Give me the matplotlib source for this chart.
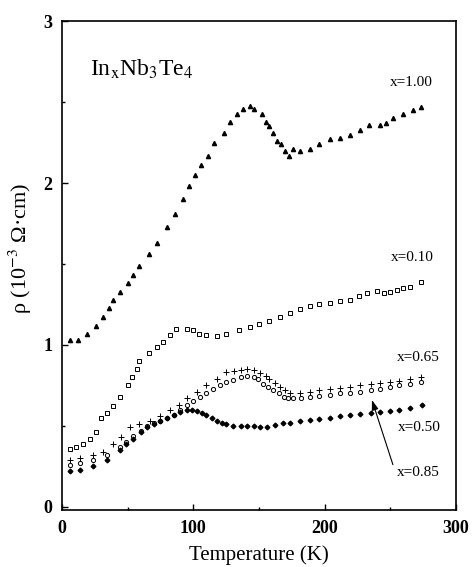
import matplotlib
matplotlib.use('Agg')
import matplotlib.pyplot as plt
from matplotlib.ticker import MultipleLocator

plt.rcParams['font.family'] = ['Liberation Serif', 'DejaVu Serif']
plt.rcParams['mathtext.fontset'] = 'stix'

# x = 1.00 (filled triangles)
t_100 = [6, 12, 19, 26, 31, 36, 39, 44, 50, 54, 59, 66, 72, 80, 86, 92, 97, 101, 106,
         111, 116, 123, 128, 133, 138, 143, 146, 152, 155, 158, 161, 164, 167, 170, 173,
         176, 181, 189, 196, 204, 212, 219, 227, 234, 242, 247, 252, 260, 267, 273]
rho_100 = [1.03, 1.03, 1.07, 1.12, 1.17, 1.23, 1.28, 1.33, 1.38, 1.43, 1.49, 1.56, 1.63,
           1.73, 1.81, 1.90, 1.98, 2.05, 2.11, 2.17, 2.25, 2.31, 2.38, 2.43, 2.46, 2.475,
           2.46, 2.43, 2.38, 2.35, 2.31, 2.26, 2.24, 2.20, 2.17, 2.21, 2.20, 2.21, 2.24,
           2.27, 2.28, 2.30, 2.33, 2.36, 2.36, 2.37, 2.40, 2.43, 2.45, 2.47]

# x = 0.10 (open squares)
t_010 = [6, 11, 16, 21, 26, 30, 34, 39, 44, 50, 53, 57, 59, 66, 72, 77, 82, 87, 95, 100,
         104, 110, 118, 125, 135, 143, 150, 158, 166, 174, 181, 189, 196, 204, 212, 219,
         226, 232, 240, 245, 250, 255, 260, 265, 273]
rho_010 = [0.36, 0.37, 0.39, 0.42, 0.46, 0.55, 0.58, 0.62, 0.68, 0.75, 0.80, 0.85, 0.90,
           0.95, 0.99, 1.02, 1.06, 1.10, 1.10, 1.09, 1.07, 1.06, 1.055, 1.07, 1.09, 1.11,
           1.13, 1.15, 1.17, 1.20, 1.22, 1.24, 1.25, 1.26, 1.27, 1.28, 1.30, 1.32, 1.335,
           1.32, 1.33, 1.34, 1.35, 1.36, 1.39]

# x = 0.65 (plus)
t_065 = [6, 14, 24, 31, 39, 45, 52, 59, 67, 75, 82, 89, 95, 103, 110, 118, 125, 131, 136,
         141, 146, 151, 155, 158, 162, 166, 170, 174, 181, 189, 196, 204, 212, 219, 227,
         235, 242, 250, 257, 265, 273]
rho_065 = [0.29, 0.30, 0.32, 0.34, 0.39, 0.43, 0.49, 0.51, 0.53, 0.56, 0.60, 0.63, 0.67,
           0.71, 0.75, 0.79, 0.83, 0.84, 0.845, 0.85, 0.845, 0.825, 0.81, 0.79, 0.765,
           0.74, 0.72, 0.70, 0.705, 0.71, 0.72, 0.73, 0.735, 0.74, 0.75, 0.76, 0.765,
           0.77, 0.78, 0.79, 0.80]

# x = 0.50 (open circles)
t_050 = [6, 14, 24, 34, 44, 49, 54, 60, 65, 70, 75, 80, 85, 90, 95, 100, 105, 110, 115,
         120, 125, 130, 136, 141, 146, 149, 153, 157, 161, 165, 169, 172, 176, 182, 189,
         196, 204, 212, 219, 227, 235, 242, 250, 257, 265, 273]
rho_050 = [0.26, 0.27, 0.29, 0.32, 0.37, 0.40, 0.44, 0.47, 0.50, 0.515, 0.53, 0.55, 0.57,
           0.60, 0.63, 0.655, 0.68, 0.705, 0.73, 0.75, 0.77, 0.785, 0.80, 0.805, 0.80,
           0.79, 0.76, 0.74, 0.72, 0.70, 0.68, 0.675, 0.67, 0.675, 0.68, 0.685, 0.69,
           0.70, 0.705, 0.71, 0.72, 0.73, 0.74, 0.75, 0.76, 0.77]

# x = 0.85 (filled)
t_085 = [6, 14, 24, 34, 44, 49, 54, 60, 65, 70, 75, 80, 85, 90, 95, 99, 103, 107, 110,
         114, 118, 122, 125, 130, 136, 141, 146, 151, 156, 162, 168, 174, 181, 189, 196,
         204, 212, 219, 227, 235, 242, 250, 257, 265, 274]
rho_085 = [0.22, 0.23, 0.25, 0.29, 0.35, 0.385, 0.42, 0.46, 0.49, 0.51, 0.53, 0.55, 0.57,
           0.585, 0.60, 0.60, 0.59, 0.58, 0.57, 0.55, 0.53, 0.52, 0.51, 0.50, 0.50, 0.50,
           0.50, 0.495, 0.495, 0.505, 0.515, 0.52, 0.53, 0.535, 0.545, 0.55, 0.56, 0.57,
           0.575, 0.58, 0.585, 0.59, 0.60, 0.61, 0.63]

series_labels = ['x=1.00', 'x=0.10', 'x=0.65', 'x=0.50', 'x=0.85']
label_pos = [(266, 2.62), (267, 1.54), (271, 0.92), (272, 0.49), (271, 0.21)]

fig = plt.figure(figsize=(4.73, 5.67), dpi=100)
ax = fig.add_axes([0.131, 0.1005, 0.833, 0.862])

ax.plot(t_100, rho_100, ls='none', marker='^', ms=3, color='black')
ax.plot(t_010, rho_010, ls='none', marker='s', ms=3.4, mfc='white', mec='black', mew=0.7)
ax.plot(t_065, rho_065, ls='none', marker='+', ms=3.8, color='black', mew=0.7)
ax.plot(t_050, rho_050, ls='none', marker='o', ms=3, mfc='white', mec='black', mew=0.7)
ax.plot(t_085, rho_085, ls='none', marker='D', ms=2.4, color='black')

for lab, (tx, ty) in zip(series_labels, label_pos):
    ax.text(tx, ty, lab, ha='center', va='center', fontsize=11)

ax.annotate('', xy=(236, 0.66), xytext=(252, 0.26),
            arrowprops=dict(arrowstyle='-|>,head_length=0.6,head_width=0.2',
                            color='black', lw=0.8, mutation_scale=10,
                            shrinkA=0, shrinkB=0))

ax.text(21, 2.7, r'In$_{\mathrm{x}}$Nb$_{3}$Te$_{4}$', fontsize=17, ha='left', va='center')

ax.set_xlim(0, 300)
ax.set_ylim(-0.02, 3)
ax.xaxis.set_major_locator(MultipleLocator(100))
ax.xaxis.set_minor_locator(MultipleLocator(50))
ax.yaxis.set_major_locator(MultipleLocator(1))
ax.yaxis.set_minor_locator(MultipleLocator(0.5))
ax.tick_params(which='both', direction='in', top=False, right=False)
ax.tick_params(which='major', length=4, width=1, pad=7)
ax.tick_params(which='minor', length=2.5, width=1)
for lab in ax.get_xticklabels() + ax.get_yticklabels():
    lab.set_fontweight('bold')
    lab.set_fontsize(13)
for sp in ax.spines.values():
    sp.set_linewidth(1.2)

ax.set_xlabel('Temperature (K)', fontsize=15, labelpad=6)
ax.set_ylabel('ρ (10$^{-3}$ Ω·cm)', fontsize=16)
ax.yaxis.set_label_coords(-0.072, 0.535)

fig.savefig('out.png', dpi=100)
